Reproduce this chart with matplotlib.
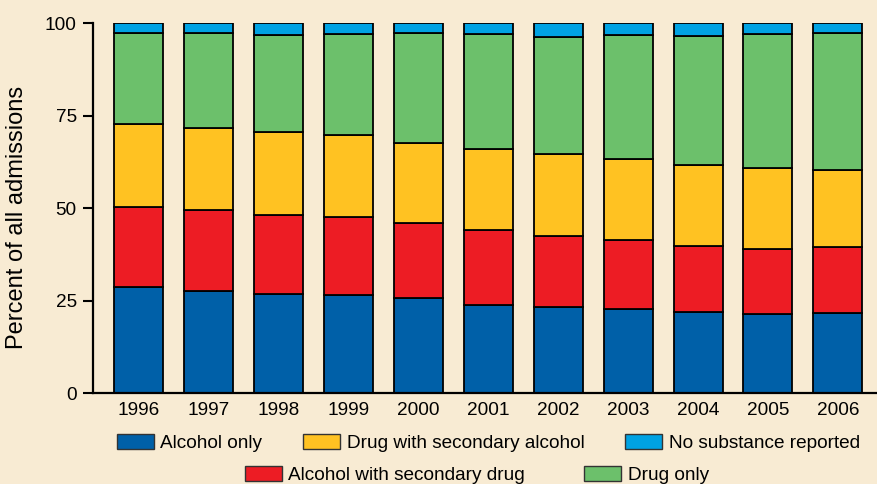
import numpy as np
import matplotlib
matplotlib.use("Agg")
from matplotlib import pyplot as plt
from matplotlib.patches import Patch

plt.rcParams["font.family"] = ["Liberation Sans", "DejaVu Sans"]

years = ["1996", "1997", "1998", "1999", "2000", "2001", "2002", "2003", "2004", "2005", "2006"]
alcohol_only = [28.6, 27.6, 26.8, 26.6, 25.7, 24.0, 23.2, 22.8, 21.9, 21.4, 21.6]
alcohol_sec_drug = [21.8, 21.9, 21.4, 21.0, 20.4, 20.1, 19.3, 18.6, 17.9, 17.7, 18.0]
drug_sec_alcohol = [22.3, 22.3, 22.3, 22.1, 21.5, 22.0, 22.1, 21.9, 21.8, 21.7, 20.8]
drug_only = [24.6, 25.7, 26.4, 27.5, 29.7, 31.1, 31.7, 33.5, 35.0, 36.4, 37.0]
no_substance = [2.7, 2.5, 3.1, 2.8, 2.7, 2.8, 3.7, 3.2, 3.4, 2.8, 2.6]

series = [
    ("Alcohol only", alcohol_only, "#0060a8"),
    ("Alcohol with secondary drug", alcohol_sec_drug, "#ed1c24"),
    ("Drug with secondary alcohol", drug_sec_alcohol, "#ffc222"),
    ("Drug only", drug_only, "#6cc06b"),
    ("No substance reported", no_substance, "#00a2e3"),
]

bg = "#f8ebd3"
fs = 13.7
fig = plt.figure(figsize=(8.77, 4.84), dpi=100, facecolor=bg)
ax = fig.add_axes([92.7 / 877, (484 - 393.3) / 484, (877 - 92.7) / 877, 370 / 484])
ax.set_facecolor(bg)

x = np.arange(len(years))
bottom = np.zeros(len(years))
colors = {}
for name, vals, color in series:
    vals = np.array(vals)
    ax.bar(x, vals, width=0.7, bottom=bottom, color=color,
           edgecolor="black", linewidth=1.3, zorder=2)
    bottom += vals
    colors[name] = color

ax.set_xlim(-0.66, 10.56)
ax.set_ylim(0, 100)
ax.set_yticks([0, 25, 50, 75, 100])
ax.set_xticks(x)
ax.set_xticklabels(years)
ax.tick_params(axis="x", length=0, labelsize=fs, pad=6)
ax.tick_params(axis="y", length=7.5, width=1.5, labelsize=fs, pad=4)
for s in ["top", "right"]:
    ax.spines[s].set_visible(False)
for s in ["left", "bottom"]:
    ax.spines[s].set_linewidth(1.6)
ax.set_ylabel("Percent of all admissions", fontsize=17, va="center")
ax.yaxis.set_label_coords(-0.096, 0.474)


def handle(name):
    return Patch(facecolor=colors[name], edgecolor="#333333", linewidth=1)


row1 = ["Alcohol only", "Drug with secondary alcohol", "No substance reported"]
row2 = ["Alcohol with secondary drug", "Drug only"]
leg_kw = dict(frameon=False, fontsize=fs, handlelength=1.95, handleheight=0.85,
              handletextpad=0.33, borderpad=0, borderaxespad=0)
leg1 = fig.legend([handle(n) for n in row1], row1, ncol=3, columnspacing=2.15,
                  loc="center left", bbox_to_anchor=(117 / 877, 1 - 443 / 484), **leg_kw)
leg2 = fig.legend([handle(n) for n in row2], row2, ncol=2, columnspacing=3.1,
                  loc="center left", bbox_to_anchor=(245 / 877, 1 - 475 / 484), **leg_kw)

fig.savefig("out.png", dpi=100, facecolor=bg)
